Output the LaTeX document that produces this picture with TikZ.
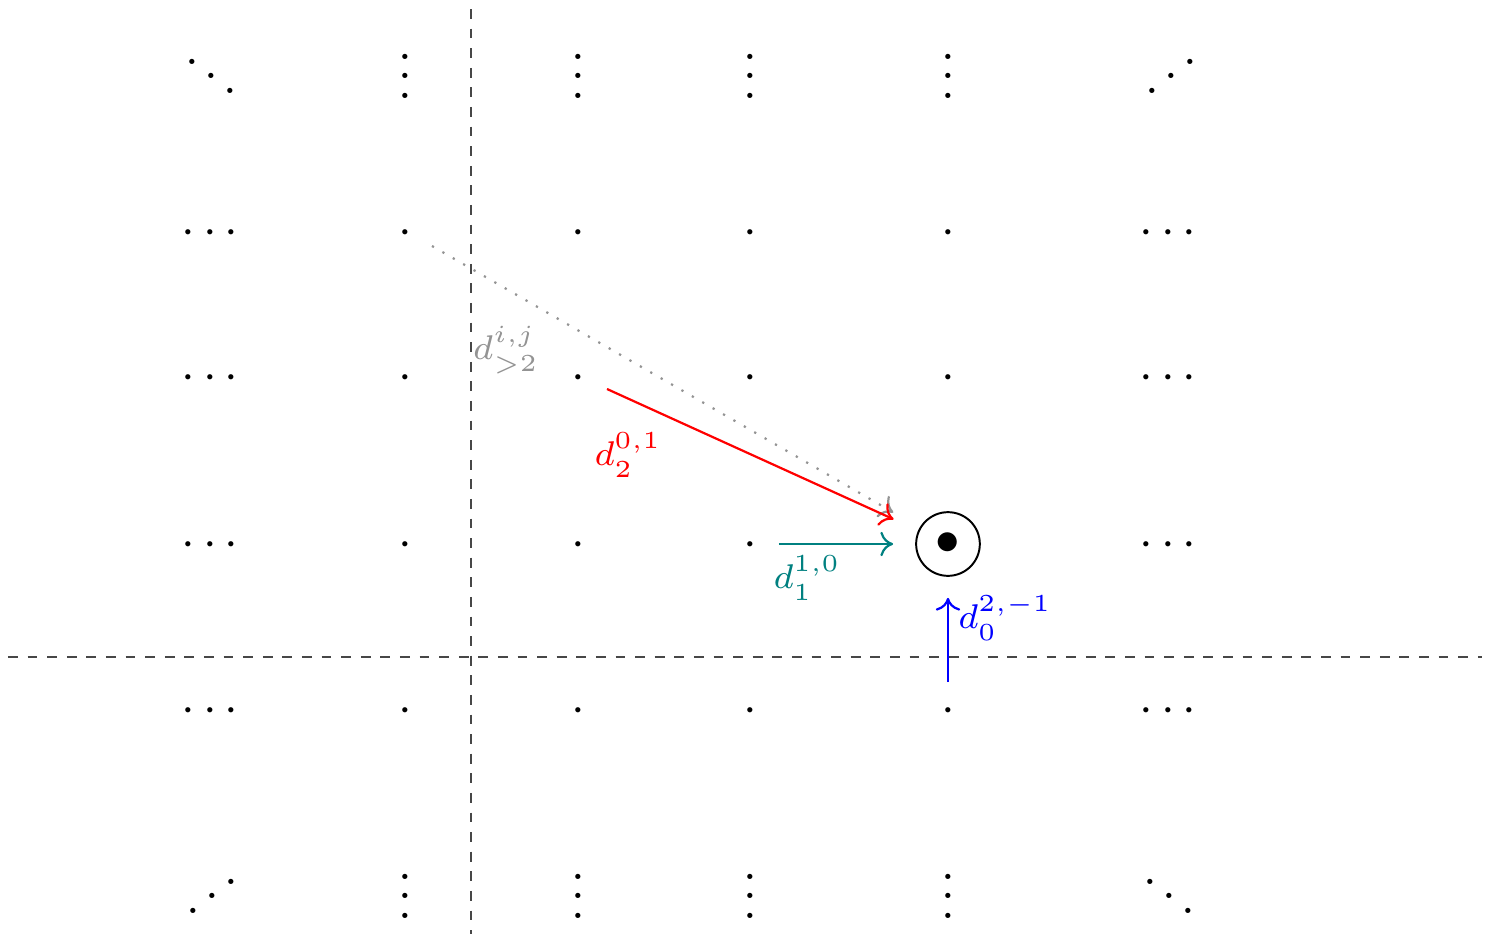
\documentclass[tikz,border=0pt]{standalone}
\usetikzlibrary{arrows.meta}
\newcommand{\myiddots}{\mathinner{\mkern1mu\raise1pt\hbox{.}\mkern2mu\raise4pt\hbox{.}\mkern2mu\raise7pt\vbox{\kern7pt\hbox{.}}\mkern1mu}}
\begin{document}
\begin{tikzpicture}[x=0.2041pt,y=-0.2041pt,
  ent/.style={inner sep=0pt, anchor=base},
  axisline/.style={draw=black!72, line width=0.4pt, dash pattern=on 2pt off 2pt},
  diff/.style={line width=0.45pt, -{Computer Modern Rightarrow[length=2.6pt, width=5pt]}},
  lbl/.style={inner sep=0pt}]
\useasboundingbox (0,0) rectangle (1496,934);
% axes
\coordinate (vt) at (471,9);
\coordinate (vb) at (471,934);
\coordinate (hl) at (8,657);
\coordinate (hr) at (1482,657);
\draw[axisline] (vt) -- (vb);
\draw[axisline] (hl) -- (hr);
% top row
\node[ent] (a1) at (211,98.3) {$\ddots$};
\foreach \x/\n in {405/a2,578/a3,750/a4,948/a5}
  \node[ent] (\n) at (\x,98.3) {$\vdots$};
\node[ent] (a6) at (1171,98.3) {$\myiddots$};
% middle rows
\foreach \y/\r in {244.25/b,389.25/c,556.25/d,722.25/e}{
  \node[ent] (\r1) at (210,\y) {$\cdots$};
  \node[ent] (\r6) at (1168,\y) {$\cdots$};
  \node[ent] (\r2) at (405,\y) {$\cdot$};
  \node[ent] (\r3) at (578,\y) {$\cdot$};
  \node[ent] (\r4) at (750,\y) {$\cdot$};
}
\foreach \y/\r in {244.25/b,389.25/c,722.25/e}
  \node[ent] (\r5) at (948,\y) {$\cdot$};
\node[circle, draw, line width=0.4pt, minimum size=13pt, inner sep=0pt] (E) at (948,544) {$\bullet$};
% bottom row
\node[ent] (f1) at (212.7,918.4) {$\myiddots$};
\foreach \x/\n in {405/f2,578/f3,750/f4,948/f5}
  \node[ent] (\n) at (\x,918.4) {$\vdots$};
\node[ent] (f6) at (1169,918.4) {$\ddots$};
% differentials
\coordinate (sg) at (432,246);
\coordinate (sr) at (607,389);
\coordinate (st) at (779,544);
\coordinate (sb) at (948,682);
\draw[diff, gray!85, dotted, shorten >=6.2pt] (sg) -- (E);
\draw[diff, red, shorten >=5.5pt] (sr) -- (E);
\draw[diff, teal, shorten >=4.5pt] (st) -- (E);
\draw[diff, blue, shorten >=4.3pt] (sb) -- (E);
\node[lbl, text=gray!85] (lg) at (506,350) {$\scriptstyle d^{i,j}_{>2}$};
\node[lbl, text=red] (lr) at (628,455) {$\scriptstyle d_2^{0,1}$};
\node[lbl, text=teal] (lt) at (807,578) {$\scriptstyle d_1^{1,0}$};
\node[lbl, text=blue] (lb) at (1005,618) {$\scriptstyle d_0^{2,-1}$};
\end{tikzpicture}
\end{document}
